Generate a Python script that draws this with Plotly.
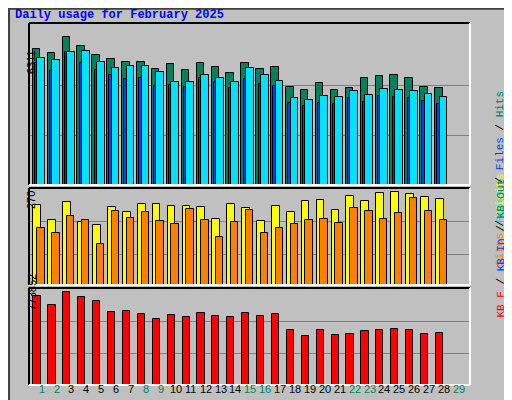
import plotly.graph_objects as go

days = list(range(1, 29))
hits = [5796, 5624, 6311, 5925, 5538, 5366, 5238, 5238, 4937, 5152, 4894, 5195, 5023, 4765,
        5195, 4937, 5023, 4164, 4035, 4336, 4035, 4121, 4551, 4636, 4679, 4551, 4164, 4121]
files = [5195, 4851, 5667, 5195, 4894, 4679, 4508, 4551, 4207, 4250, 4164, 4551, 4379, 4121,
         4508, 4293, 4207, 3477, 3349, 3477, 3434, 3692, 3520, 3778, 3735, 3692, 3563, 3434]
pages = [5409, 5323, 5667, 5710, 5238, 4980, 5066, 5066, 4808, 4379, 4379, 4679, 4551, 4379,
         4980, 4679, 4422, 3692, 3606, 3778, 3735, 3992, 3821, 4078, 4035, 3992, 3864, 3735]
visits = [232, 190, 241, 182, 173, 226, 211, 235, 235, 229, 229, 226, 193, 235,
          223, 185, 229, 211, 244, 246, 217, 258, 244, 267, 270, 264, 255, 249]
sites = [167, 152, 202, 188, 120, 214, 196, 211, 185, 176, 220, 190, 140, 182,
         217, 152, 167, 176, 190, 193, 179, 223, 214, 193, 208, 252, 214, 190]
kbytes = [737000, 669000, 773852, 729000, 695000, 610000, 619000, 593000, 551000, 585000,
          568000, 602000, 576000, 568000, 602000, 576000, 593000, 458000, 407000, 458000,
          415000, 424000, 449000, 458000, 466000, 458000, 424000, 432000]
weekend = [1, 2, 8, 9, 15, 16, 22, 23, 29, 30]

BG = "#c0c0c0"
MONO = "Liberation Mono"
SANS = "Liberation Sans"


def px_y(p):
    return 1 - p / 400


fig = go.Figure()


def bars(y, color, axis, offset, width):
    fig.add_trace(go.Bar(
        x=days, y=y, xaxis="x", yaxis=axis, offset=offset, width=width,
        marker=dict(color=color, line=dict(color="black", width=1)),
        showlegend=False, hoverinfo="skip",
    ))


bars(hits, "#00805c", "y", -0.25, 0.5)
bars(files, "#0040ff", "y", -0.1, 0.2)
bars(pages, "#00e0ff", "y", 0.05, 0.52)
bars(visits, "#ffff00", "y2", -0.2, 0.52)
bars(sites, "#ff8000", "y2", 0.05, 0.5)
bars(kbytes, "#ff0000", "y3", -0.2, 0.48)

dom_x = [21 / 512, 462 / 512]
axis_common = dict(showticklabels=False, zeroline=False, showline=False,
                   gridcolor="#808080", gridwidth=1, ticks="")
fig.update_layout(
    width=512, height=400, margin=dict(l=0, r=0, t=0, b=0, autoexpand=False),
    paper_bgcolor=BG, plot_bgcolor=BG, barmode="overlay", bargap=0,
    xaxis=dict(domain=dom_x, range=[0.5, 30.09], showgrid=False, showticklabels=False,
               zeroline=False, anchor="y3"),
    yaxis=dict(domain=[px_y(177), px_y(15)], range=[0, 6908],
               tickvals=[2132, 4264], **axis_common),
    yaxis2=dict(domain=[px_y(277), px_y(180)], range=[0, 282],
                tickvals=[90, 185], **axis_common),
    yaxis3=dict(domain=[px_y(377), px_y(280)], range=[0, 807000],
                tickvals=[258000, 530000], **axis_common),
)

shapes = [
    dict(type="rect", xref="paper", yref="paper", x0=0.002, x1=0.998, y0=0.002, y1=0.998,
         line=dict(color="#404040", width=2)),
]
for top, bot in [(15, 177), (180, 277), (280, 377)]:
    x0, x1 = dom_x
    y0, y1 = px_y(bot), px_y(top)
    shapes += [
        dict(type="line", xref="paper", yref="paper", x0=x0, x1=x1, y0=y1, y1=y1,
             line=dict(color="black", width=2)),
        dict(type="line", xref="paper", yref="paper", x0=x0, x1=x0, y0=y0, y1=y1,
             line=dict(color="black", width=2)),
        dict(type="line", xref="paper", yref="paper", x0=x0, x1=x1, y0=y0, y1=y0,
             line=dict(color="white", width=2)),
        dict(type="line", xref="paper", yref="paper", x0=x1, x1=x1, y0=y0, y1=y1,
             line=dict(color="white", width=2)),
    ]
fig.update_layout(shapes=shapes)

ann = [
    dict(text="<b>Daily usage for February 2025</b>", x=5 / 512, y=px_y(16), xanchor="left",
         yanchor="bottom", font=dict(family=MONO, size=12, color="#0000ff")),
    dict(text=str(max(hits)), x=15 / 512, y=px_y(40), textangle=-90,
         font=dict(family=SANS, size=11, color="black")),
    dict(text=str(max(visits)), x=15 / 512, y=px_y(192), textangle=-90,
         font=dict(family=SANS, size=11, color="black")),
    dict(text=str(max(kbytes)), x=15 / 512, y=px_y(305), textangle=-90,
         font=dict(family=SANS, size=11, color="black")),
    dict(text='<span style="color:#00e0ff">Pages</span> / <span style="color:#0040ff">Files</span>'
              ' / <span style="color:#00805c">Hits</span>',
         x=500 / 512, y=px_y(81), textangle=-90, font=dict(family=MONO, size=11, color="black")),
    dict(text='<span style="color:#ff8000">Sites</span> / <span style="color:#ffff00">Visits</span>',
         x=500 / 512, y=px_y(212), textangle=-90, font=dict(family=MONO, size=11, color="black")),
    dict(text='<span style="color:#ff0000">KB F</span> / <span style="color:#0040ff">KB In</span>'
              ' / <span style="color:#00805c">KB Out</span>',
         x=500 / 512, y=px_y(312), textangle=-90, font=dict(family=MONO, size=11, color="black")),
]
for a in ann:
    a.update(xref="paper", yref="paper", showarrow=False)
for d in range(1, 32):
    ann.append(dict(text=str(d), x=d + 0.35, xref="x", y=px_y(389), yref="paper",
                    showarrow=False, font=dict(family=SANS, size=11,
                                               color="#00805c" if d in weekend else "black")))
fig.update_layout(annotations=ann)

fig.write_html("out.html")
